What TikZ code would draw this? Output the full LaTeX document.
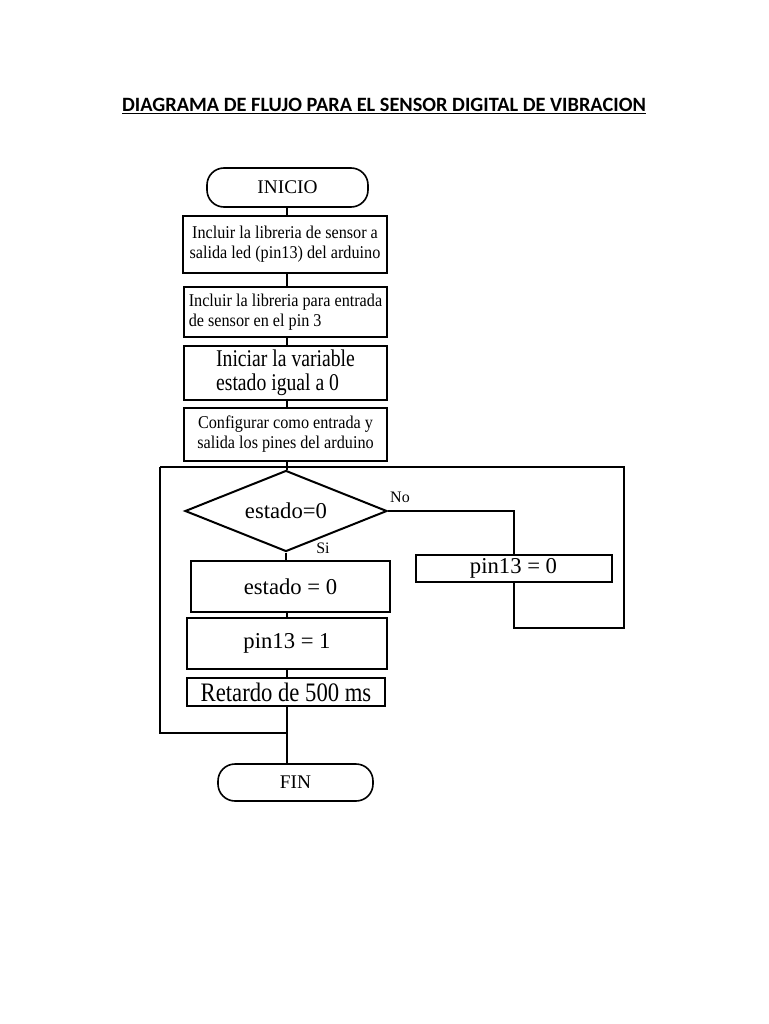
\documentclass[tikz,border=0pt]{standalone}
\usepackage{fontspec}
\setmainfont{Liberation Serif}
\newfontfamily\titlefont{Carlito}
\newfontfamily\condA{Liberation Serif}[FakeStretch=0.9]
\newfontfamily\condB{Liberation Serif}[FakeStretch=0.82]
\newfontfamily\condC{Liberation Serif}[FakeStretch=0.85]
\usetikzlibrary{shapes.geometric}
\newdimen\pxu \pxu=0.75pt
\tikzset{
  box/.style={draw, line width=1.5pt, rectangle, inner sep=0pt, align=center},
  term/.style={draw, line width=1.2pt, rectangle, rounded corners=17\pxu, inner sep=0pt},
  dia/.style={draw, line width=1.5pt, diamond, inner sep=0pt, aspect=2.5},
  conn/.style={line width=1.5pt},
  lbl/.style={inner sep=0pt},
  smalltxt/.style={font=\condA\fontsize{13.5pt}{15pt}\selectfont},
  bigtxt/.style={font=\fontsize{17pt}{19pt}\selectfont},
}
\begin{document}
\begin{tikzpicture}[x=0.75pt,y=-0.75pt]
\useasboundingbox (0,0) rectangle (768,1024);
\fill[white] (0,0) rectangle (768,1024);
\node[lbl, anchor=base] (title) at (384,111) {\titlefont\bfseries\fontsize{15.25pt}{17pt}\selectfont\underline{DIAGRAMA DE FLUJO PARA EL SENSOR DIGITAL DE VIBRACION}};

\node[term, minimum width=161\pxu, minimum height=39\pxu, font=\fontsize{14.5pt}{16pt}\selectfont] (inicio) at (287.5,187.5) {INICIO};
\node[box, smalltxt, minimum width=204\pxu, minimum height=57\pxu] (b1) at (285,244.5) {Incluir la libreria de sensor a\\salida led (pin13) del arduino};
\node[box, smalltxt, minimum width=203\pxu, minimum height=50\pxu, align=left] (b2) at (285.5,312) {Incluir la libreria para entrada\\de sensor en el pin 3};
\node[box, minimum width=203\pxu, minimum height=54\pxu, align=left, font=\condB\fontsize{18pt}{18pt}\selectfont] (b3) at (285.5,373) {Iniciar la variable\\estado igual a 0};
\node[box, smalltxt, minimum width=203\pxu, minimum height=53\pxu] (b4) at (285.5,434.5) {Configurar como entrada y\\salida los pines del arduino};
\node[dia, bigtxt, minimum width=202\pxu, minimum height=81\pxu] (d) at (286,511) {estado=0};
\node[box, bigtxt, minimum width=199\pxu, minimum height=51\pxu] (e0) at (290.5,586.5) {estado = 0};
\node[box, bigtxt, minimum width=200\pxu, minimum height=51\pxu] (p1) at (287,643.5) {pin13 = 1};
\node[box, minimum width=198\pxu, minimum height=28\pxu, font=\condC\fontsize{20pt}{22pt}\selectfont] (ret) at (286,692) {Retardo de 500 ms};
\node[term, minimum width=155\pxu, minimum height=37\pxu, font=\fontsize{14.5pt}{16pt}\selectfont] (fin) at (295.5,782.5) {FIN};
\node[box, bigtxt, minimum width=196\pxu, minimum height=27\pxu] (p0) at (513.5,568.5) {pin13 = 0};

\node[lbl, font=\fontsize{12pt}{14pt}\selectfont] (no) at (400,497) {No};
\node[lbl, font=\fontsize{12pt}{14pt}\selectfont] (si) at (323,548) {Si};

\coordinate (tl) at (160,467);
\coordinate (tr) at (624,467);
\coordinate (bl) at (160,733);
\coordinate (jb) at (287,733);
\coordinate (br) at (624,628);
\coordinate (bm) at (514,628);
\coordinate (nr) at (514,511);

\draw[conn] (287,207) -- (287,216);
\draw[conn] (287,273) -- (287,287);
\draw[conn] (287,337) -- (287,346);
\draw[conn] (287,400) -- (287,408);
\draw[conn] (287,461) -- (287,470);
\draw[conn] (tl) -- (tr) -- (br) -- (bm) -- (p0.south -| bm);
\draw[conn] (tl) -- (bl) -- (jb);
\draw[conn] (d.east) -- (nr) -- (p0.north -| nr);
\draw[conn] (d.south) -- (d.south |- e0.north);
\draw[conn] (287,612) -- (287,618);
\draw[conn] (287,669) -- (287,678);
\draw[conn] (287,706) -- (287,764);
\end{tikzpicture}
\end{document}
